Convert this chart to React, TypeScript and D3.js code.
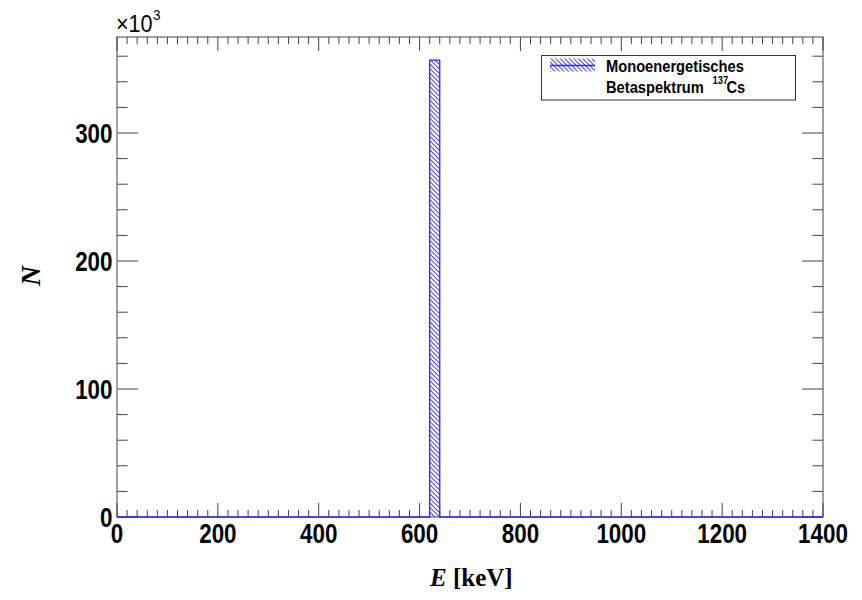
import React from "react";
import * as d3 from "d3";

// ---- data ----
const energyDomain = [0, 1400]; // keV
const countMax = 375; // ×10^3 (axis top)
const binLow = [620]; // keV
const binHigh = [640]; // keV
const binCounts = [357]; // ×10^3
const xMajorTicks = [0, 200, 400, 600, 800, 1000, 1200, 1400];
const yMajorTicks = [0, 100, 200, 300];
const xMinorStep = 20;
const yMinorStep = 20;
const legendLine1 = "Monoenergetisches";
const legendLine2 = "Betaspektrum";
const legendIsotopeMass = "137";
const legendIsotopeSymbol = "Cs";

const W = 862;
const H = 600;
const L = 117, R = 823, T = 37, B = 517;
const SANS = "'Liberation Sans', Arial, Helvetica, sans-serif";
const SERIF = "'Liberation Serif', 'Times New Roman', Times, serif";
const BLUE = "#2a2aff";
const AXIS = "#444";

function SText(props: any) {
  const { x, y, sx = 1, anchor = "start", size, weight = "bold", family = SANS, children } = props;
  return (
    <g transform={`translate(${x},${y}) scale(${sx},1)`}>
      <text textAnchor={anchor} fontSize={size} fontWeight={weight} fontFamily={family} fill="#000">
        {children}
      </text>
    </g>
  );
}

export default function App() {
  const x = d3.scaleLinear().domain(energyDomain).range([L, R]);
  const y = d3.scaleLinear().domain([0, countMax]).range([B, T]);

  const xMinor = d3.range(energyDomain[0], energyDomain[1] + 0.001, xMinorStep).filter((v) => !xMajorTicks.includes(v));
  const yMinor = d3.range(0, countMax, yMinorStep).filter((v) => !yMajorTicks.includes(v));

  // histogram outline (step line over whole range)
  const pts: [number, number][] = [[energyDomain[0], 0]];
  binLow.forEach((lo, i) => {
    pts.push([lo, 0], [lo, binCounts[i]], [binHigh[i], binCounts[i]], [binHigh[i], 0]);
  });
  pts.push([energyDomain[1], 0]);
  const line = d3.line<[number, number]>().x((d) => x(d[0])).y((d) => y(d[1]));

  const xMajLen = 14, xMinLen = 7, yMajLen = 21, yMinLen = 10.5;

  return (
    <svg width={W} height={H} style={{ position: "absolute", left: 0, top: 0, background: "#fff" }}>
      <defs>
        <pattern id="hatch" patternUnits="userSpaceOnUse" width={3.2} height={3.2} patternTransform="rotate(45)">
          <line x1={0} y1={0.5} x2={3.2} y2={0.5} stroke={BLUE} strokeWidth={0.9} />
        </pattern>
      </defs>
      <rect x={0} y={0} width={W} height={H} fill="#fff" />

      {/* bars */}
      {binLow.map((lo, i) => (
        <rect key={i} x={x(lo)} y={y(binCounts[i])} width={x(binHigh[i]) - x(lo)} height={y(0) - y(binCounts[i])} fill="url(#hatch)" />
      ))}

      {/* frame */}
      <rect x={L} y={T} width={R - L} height={B - T} fill="none" stroke={AXIS} strokeWidth={1} />

      {/* x ticks bottom & top */}
      {xMajorTicks.map((v) => (
        <g key={"xm" + v}>
          <line x1={x(v)} x2={x(v)} y1={B} y2={B - xMajLen} stroke={AXIS} />
          <line x1={x(v)} x2={x(v)} y1={T} y2={T + xMajLen} stroke={AXIS} />
        </g>
      ))}
      {xMinor.map((v) => (
        <g key={"xn" + v}>
          <line x1={x(v)} x2={x(v)} y1={B} y2={B - xMinLen} stroke={AXIS} />
          <line x1={x(v)} x2={x(v)} y1={T} y2={T + xMinLen} stroke={AXIS} />
        </g>
      ))}
      {/* y ticks left & right */}
      {yMajorTicks.map((v) => (
        <g key={"ym" + v}>
          <line x1={L} x2={L + yMajLen} y1={y(v)} y2={y(v)} stroke={AXIS} />
          <line x1={R} x2={R - yMajLen} y1={y(v)} y2={y(v)} stroke={AXIS} />
        </g>
      ))}
      {yMinor.map((v) => (
        <g key={"yn" + v}>
          <line x1={L} x2={L + yMinLen} y1={y(v)} y2={y(v)} stroke={AXIS} />
          <line x1={R} x2={R - yMinLen} y1={y(v)} y2={y(v)} stroke={AXIS} />
        </g>
      ))}

      {/* histogram outline */}
      <path d={line(pts) || ""} fill="none" stroke={BLUE} strokeWidth={1.3} />

      {/* tick labels */}
      {xMajorTicks.map((v) => (
        <SText key={"xl" + v} x={x(v)} y={543} sx={0.8} anchor="middle" size={28}>
          {v}
        </SText>
      ))}
      {yMajorTicks.map((v) => (
        <SText key={"yl" + v} x={112.5} y={y(v) + 10} sx={0.8} anchor="end" size={28}>
          {v}
        </SText>
      ))}

      {/* exponent */}
      <SText x={116} y={32} sx={0.9} size={24} weight="normal">
        ×10
      </SText>
      <SText x={153} y={20} sx={0.9} size={15} weight="normal">
        3
      </SText>

      {/* axis titles */}
      <text x={430} y={586} fontFamily={SERIF} fontWeight="bold" fontSize={25} fill="#000">
        <tspan fontStyle="italic">E</tspan>
        <tspan> [keV]</tspan>
      </text>
      <text transform="translate(40,276) rotate(-90)" textAnchor="middle" fontFamily={SERIF} fontWeight="bold" fontStyle="italic" fontSize={28} fill="#000">
        N
      </text>

      {/* legend */}
      <rect x={541.5} y={55.5} width={254} height={44.5} fill="#fff" stroke="#333" strokeWidth={1} />
      <rect x={550} y={58.5} width={45} height={13} fill="url(#hatch)" />
      <line x1={550} x2={595} y1={65.5} y2={65.5} stroke={BLUE} strokeWidth={1.3} />
      <SText x={606} y={71.7} sx={0.89} size={16.5}>
        {legendLine1}
      </SText>
      <SText x={606} y={93.3} sx={0.89} size={16.5}>
        {legendLine2}
      </SText>
      <SText x={712.5} y={84} sx={0.89} size={10.5}>
        {legendIsotopeMass}
      </SText>
      <SText x={726.5} y={93.3} sx={0.89} size={16.5}>
        {legendIsotopeSymbol}
      </SText>
    </svg>
  );
}
